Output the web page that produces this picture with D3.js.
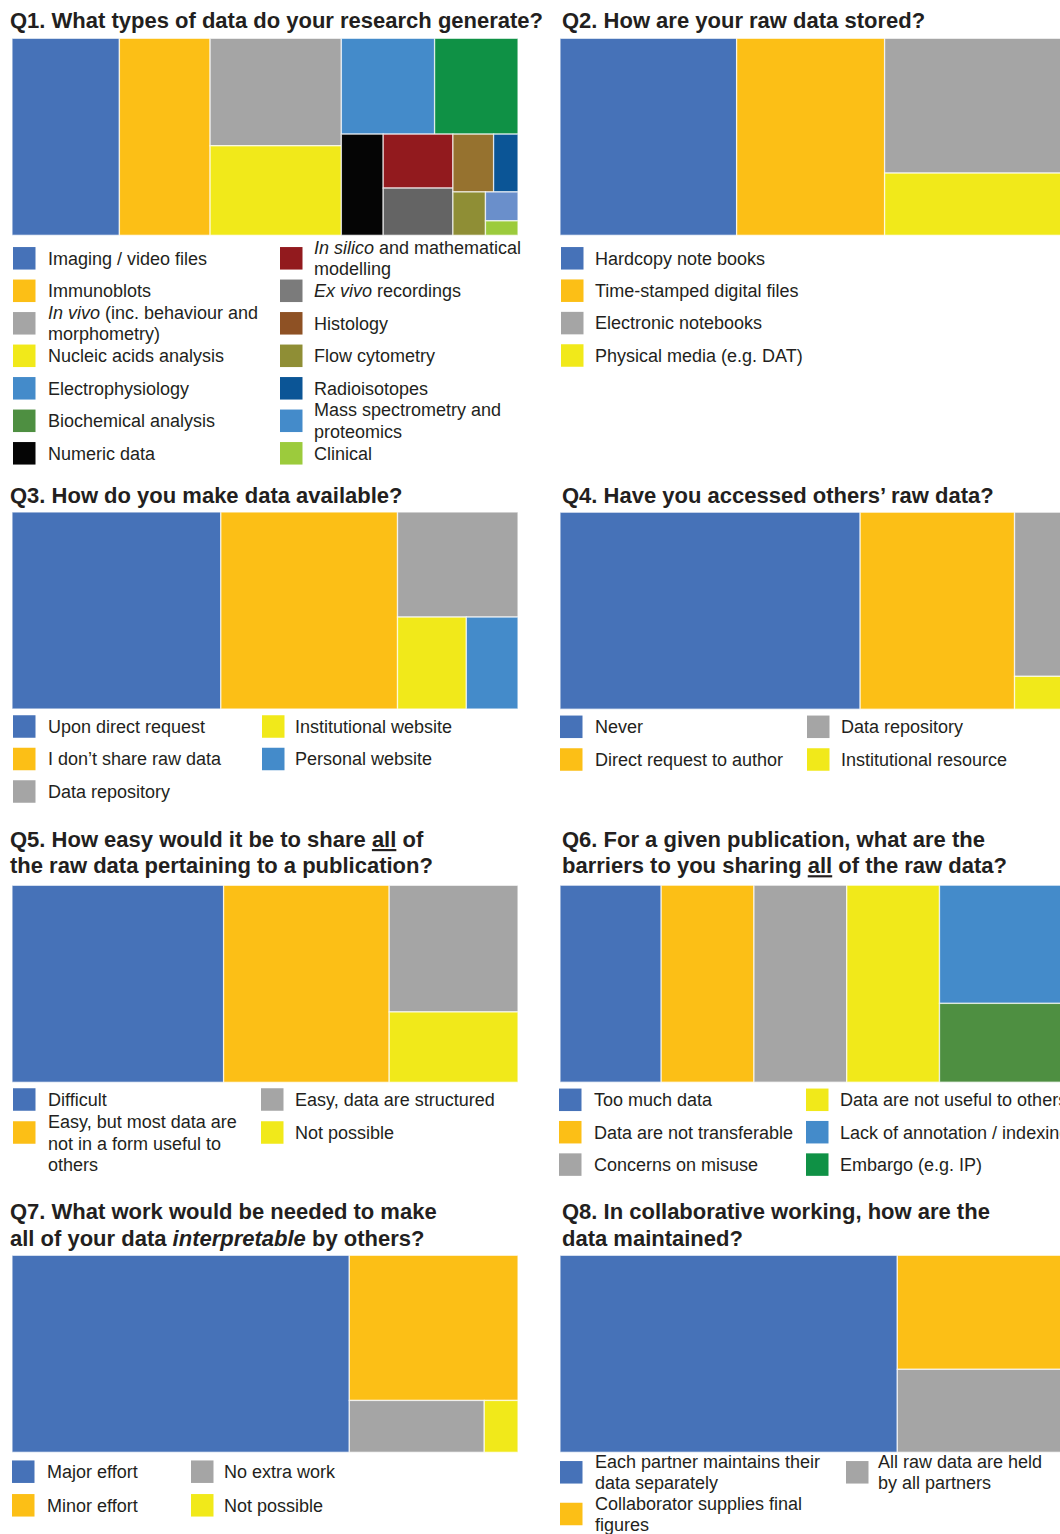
<!DOCTYPE html>
<html><head><meta charset="utf-8">
<script src="https://cdn.jsdelivr.net/npm/d3@7"></script>
<style>
html,body{margin:0;padding:0;background:#fff;overflow:hidden}
svg{display:block}
text{font-family:"Liberation Sans",Arial,Helvetica,sans-serif;fill:#231f20}
</style></head><body>
<svg id="chart" width="1060" height="1534"></svg>
<script>
// ---------------- DATA (in treemap order) ----------------
const q1Title = ["Q1. What types of data do your research generate?"];
const q1Labels = ["Imaging / video files","Immunoblots","*In vivo* (inc. behaviour and\nmorphometry)","Nucleic acids analysis","Electrophysiology","Biochemical analysis","Numeric data","*In silico* and mathematical\nmodelling","*Ex vivo* recordings","Histology","Radioisotopes","Flow cytometry","Mass spectrometry and\nproteomics","Clinical"];
const q1Values = [45,38,30,25,19,17,9,8,7,5,3,3,2,1];
const q1Strips = [1,1,2,2,1,2,2,1,1,1];

const q2Title = ["Q2. How are your raw data stored?"];
const q2Labels = ["Hardcopy note books","Time-stamped digital files","Electronic notebooks","Physical media (e.g. DAT)"];
const q2Values = [37,31,26,12];

const q3Title = ["Q3. How do you make data available?"];
const q3Labels = ["Upon direct request","I don\u2019t share raw data","Data repository","Institutional website","Personal website"];
const q3Values = [26,22,8,4,3];

const q4Title = ["Q4. Have you accessed others\u2019 raw data?"];
const q4Labels = ["Never","Direct request to author","Data repository","Institutional resource"];
const q4Values = [35,18,5,1];

const q5Title = ["Q5. How easy would it be to share _all_ of","the raw data pertaining to a publication?"];
const q5Labels = ["Difficult","Easy, but most data are\nnot in a form useful to\nothers","Easy, data are structured","Not possible"];
const q5Values = [23,18,9,5];

const q6Title = ["Q6. For a given publication, what are the","barriers to you sharing _all_ of the raw data?"];
const q6Labels = ["Too much data","Data are not transferable","Concerns on misuse","Data are not useful to others","Lack of annotation / indexing","Embargo (e.g. IP)"];
const q6Values = [12,11,11,11,9,6];

const q7Title = ["Q7. What work would be needed to make","all of your data *interpretable* by others?"];
const q7Labels = ["Major effort","Minor effort","No extra work","Not possible"];
const q7Values = [38,14,4,1];

const q8Title = ["Q8. In collaborative working, how are the","data maintained?"];
const q8Labels = ["Each partner maintains their\ndata separately","Collaborator supplies final\nfigures","All raw data are held\nby all partners"];
const q8Values = [38,11,8];

// ---------------- STYLES ----------------
const C = {
  blue:"#4672b8", orange:"#fcbf16", gray:"#a5a5a5", yellow:"#f1e91a",
  ltblue:"#448bca", green:"#0f9145", mgreen:"#4e8f41", black:"#050505",
  red:"#921a1e", dgray:"#646464", mgray:"#7b7b7b", hist:"#96722f", brown:"#8e5124",
  olive:"#8f8e35", navy:"#0b5596", msblue:"#6a8fcb", lime:"#9ccb3c"
};
const base = [C.blue,C.orange,C.gray,C.yellow,C.ltblue];
const q1Fill   = [C.blue,C.orange,C.gray,C.yellow,C.ltblue,C.green,C.black,C.red,C.dgray,C.hist,C.navy,C.olive,C.msblue,C.lime];
const q1Swatch = [C.blue,C.orange,C.gray,C.yellow,C.ltblue,C.mgreen,C.black,C.red,C.mgray,C.brown,C.navy,C.olive,C.ltblue,C.lime];
const q6Fill   = [...base, C.mgreen];
const q6Swatch = [...base, C.green];

const MAP_W = 506, MAP_H = 197;
const LEFT = {mapX:12, titleX:10}, RIGHT = {mapX:560, titleX:562};

const panels = [
  {title:q1Title, labels:q1Labels, values:q1Values, strips:q1Strips, fill:q1Fill, swatch:q1Swatch, pos:LEFT, titleY:28, mapY:38.3,
   legend:{y0:258.3, dy:32.5, cols:[{sx:13,tx:48,items:[0,1,2,3,4,5,6]},{sx:280,tx:314,items:[7,8,9,11,10,12,13]}]}},
  {title:q2Title, labels:q2Labels, values:q2Values, fill:base, swatch:base, pos:RIGHT, titleY:28, mapY:38.3,
   legend:{y0:258.3, dy:32.4, cols:[{sx:561,tx:595,items:[0,1,2,3]}]}},
  {title:q3Title, labels:q3Labels, values:q3Values, fill:base, swatch:base, pos:LEFT, titleY:502.5, mapY:512,
   legend:{y0:726.5, dy:32.5, cols:[{sx:13,tx:48,items:[0,1,2]},{sx:262,tx:295,items:[3,4]}]}},
  {title:q4Title, labels:q4Labels, values:q4Values, fill:base, swatch:base, pos:RIGHT, titleY:502.5, mapY:512.2,
   legend:{y0:726.8, dy:32.7, cols:[{sx:560,tx:595,items:[0,1]},{sx:807,tx:841,items:[2,3]}]}},
  {title:q5Title, labels:q5Labels, values:q5Values, fill:base, swatch:base, pos:LEFT, titleY:846.5, mapY:885.3,
   legend:{y0:1099.5, dy:33, cols:[{sx:13,tx:48,items:[0,1]},{sx:261,tx:295,items:[2,3]}]}},
  {title:q6Title, labels:q6Labels, values:q6Values, fill:q6Fill, swatch:q6Swatch, pos:RIGHT, titleY:846.5, mapY:885.2,
   legend:{y0:1099.8, dy:32.4, cols:[{sx:559,tx:594,items:[0,1,2]},{sx:806,tx:840,items:[3,4,5]}]}},
  {title:q7Title, labels:q7Labels, values:q7Values, fill:base, swatch:base, pos:LEFT, titleY:1219.3, mapY:1255.3,
   legend:{y0:1471.7, dy:33.6, cols:[{sx:12,tx:47,items:[0,1]},{sx:191,tx:224,items:[2,3]}]}},
  {title:q8Title, labels:q8Labels, values:q8Values, fill:base, swatch:base, pos:RIGHT, titleY:1219.3, mapY:1255.3,
   legend:{y0:1472.3, dy:41.7, cols:[{sx:560,tx:595,items:[0,1]},{sx:846,tx:878,items:[2]}]}}
];

// ---------------- LAYOUT ----------------
// strip tiling: successive groups laid along the shorter side of the remaining rectangle
function stripTile(strips) {
  return function(parent, x0, y0, x1, y1) {
    const nodes = parent.children;
    let value = parent.value, i = 0, r = 0;
    while (i < nodes.length) {
      const k = (strips && strips[r]) || 1;
      const row = {children: nodes.slice(i, i + k)};
      row.value = d3.sum(row.children, d => d.value);
      const dx = x1 - x0, dy = y1 - y0;
      const f = value ? row.value / value : 1;
      if (dx >= dy) { const nx = x0 + dx * f; d3.treemapSlice(row, x0, y0, nx, y1); x0 = nx; }
      else { const ny = y0 + dy * f; d3.treemapDice(row, x0, y0, x1, ny); y0 = ny; }
      value -= row.value; i += k; r++;
    }
  };
}

function addRich(sel, str) {
  str.split(/(\*[^*]+\*|_[^_]+_)/).filter(s => s.length).forEach(seg => {
    const ts = sel.append("tspan");
    if (seg[0] === "*") ts.attr("font-style","italic").text(seg.slice(1,-1));
    else if (seg[0] === "_") ts.attr("class","ul").text(seg.slice(1,-1));
    else ts.text(seg);
  });
}

const svg = d3.select("#chart");

panels.forEach(p => {
  const g = svg.append("g");
  // title
  const t = g.append("text").attr("font-size",22).attr("font-weight","bold");
  p.title.forEach((line,i) => {
    const y = p.titleY + i*26.2;
    const tl = t.append("tspan").attr("x", p.pos.titleX).attr("y", y).attr("data-base", y);
    addRich(tl, line);
  });

  // treemap
  const root = d3.hierarchy({children: p.values.map((v,i) => ({idx:i, value:v}))})
    .sum(d => d.children ? 0 : d.value);
  d3.treemap().tile(stripTile(p.strips)).size([MAP_W, MAP_H]).round(false)(root);
  const m = g.append("g").attr("transform", `translate(${p.pos.mapX},${p.mapY})`);
  m.selectAll("rect").data(root.leaves()).join("rect")
    .attr("x", d => d.x0).attr("y", d => d.y0)
    .attr("width", d => d.x1 - d.x0).attr("height", d => d.y1 - d.y0)
    .attr("fill", d => p.fill[d.data.idx])
    .attr("stroke", "#ffffff").attr("stroke-opacity", 0.7).attr("stroke-width", 1.3);

  // legend
  const LH = 21.5, SW = 22.5;
  p.legend.cols.forEach(col => {
    col.items.forEach((idx, r) => {
      const c = p.legend.y0 + r * p.legend.dy;
      g.append("rect").attr("x", col.sx).attr("y", c - SW/2).attr("width", SW).attr("height", SW)
        .attr("fill", p.swatch[idx]);
      const lines = p.labels[idx].split("\n");
      const txt = g.append("text").attr("font-size", 18).attr("fill", "#262626");
      lines.forEach((ln, i) => {
        const yc = lines.length === 1 ? c : c + (i - 0.5) * LH;
        const tl = txt.append("tspan").attr("x", col.tx).attr("y", yc).attr("dy", "0.35em");
        addRich(tl, ln);
      });
    });
  });
});

// thick underline under emphasised title words
svg.selectAll("tspan.ul").each(function() {
  const b = this.getBBox();
  const baseY = +this.parentNode.getAttribute("data-base");
  svg.append("line").attr("x1", b.x).attr("x2", b.x + b.width)
    .attr("y1", baseY + 3.6).attr("y2", baseY + 3.6)
    .attr("stroke", "#231f20").attr("stroke-width", 2.2);
});
</script>
</body></html>
